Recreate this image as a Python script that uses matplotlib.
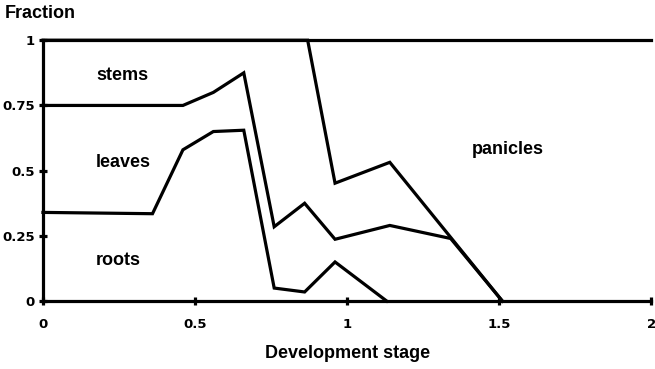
import matplotlib.pyplot as plt

# cumulative dry-matter fractions vs development stage
roots_x = [0, 0.36, 0.46, 0.56, 0.66, 0.76, 0.86, 0.96, 1.13]
roots_y = [0.34, 0.335, 0.58, 0.65, 0.655, 0.05, 0.035, 0.15, 0]

leaves_x = [0, 0.46, 0.56, 0.66, 0.76, 0.86, 0.96, 1.14, 1.34, 1.51]
leaves_y = [0.75, 0.75, 0.80, 0.875, 0.285, 0.375, 0.237, 0.29, 0.24, 0]

stems_x = [0, 0.87, 0.96, 1.14, 1.51]
stems_y = [1, 1, 0.452, 0.532, 0]

panicles_x = [0, 2]
panicles_y = [1, 1]

xticks = [0, 0.5, 1, 1.5, 2]
yticks = [0, 0.25, 0.5, 0.75, 1]
ytick_labels = ["0", "0.25", "0.5", "0.75", "1"]

labels = {"stems": (0.175, 0.866), "leaves": (0.175, 0.533),
          "roots": (0.175, 0.157), "panicles": (1.41, 0.58)}

plt.rcParams["font.family"] = ["Liberation Sans", "DejaVu Sans"]
plt.rcParams["font.weight"] = "bold"

fig = plt.figure(figsize=(6.55, 3.69), dpi=100)
ax = fig.add_axes([0.0656, 0.184, 0.929, 0.707])

lw = 2.3
for xs, ys in [(roots_x, roots_y), (leaves_x, leaves_y),
               (stems_x, stems_y), (panicles_x, panicles_y)]:
    ax.plot(xs, ys, color="black", lw=lw, clip_on=False, solid_joinstyle="miter")

for name, (tx, ty) in labels.items():
    ax.text(tx, ty, name, fontsize=13, fontweight="bold", va="center", ha="left")

ax.set_xlim(0, 2)
ax.set_ylim(0, 1)
for side in ["top", "right"]:
    ax.spines[side].set_visible(False)
for side in ["left", "bottom"]:
    ax.spines[side].set_linewidth(lw)

ax.set_xticks(xticks)
ax.set_xticklabels([f"{t:g}" for t in xticks])
ax.set_yticks(yticks)
ax.set_yticklabels(ytick_labels)
ax.tick_params(direction="inout", length=6, width=lw)
ax.tick_params(axis="x", pad=9)
ax.tick_params(axis="y", pad=3)
for lab in ax.get_xticklabels() + ax.get_yticklabels():
    lab.set_family(["DejaVu Sans"])
    lab.set_fontsize(9.5)
    lab.set_fontweight("bold")

ax.set_xlabel("Development stage", fontsize=13, fontweight="bold", labelpad=10)
fig.text(0.008, 0.94, "Fraction", fontsize=13, fontweight="bold", ha="left", va="bottom")

fig.savefig("out.png", dpi=100)
